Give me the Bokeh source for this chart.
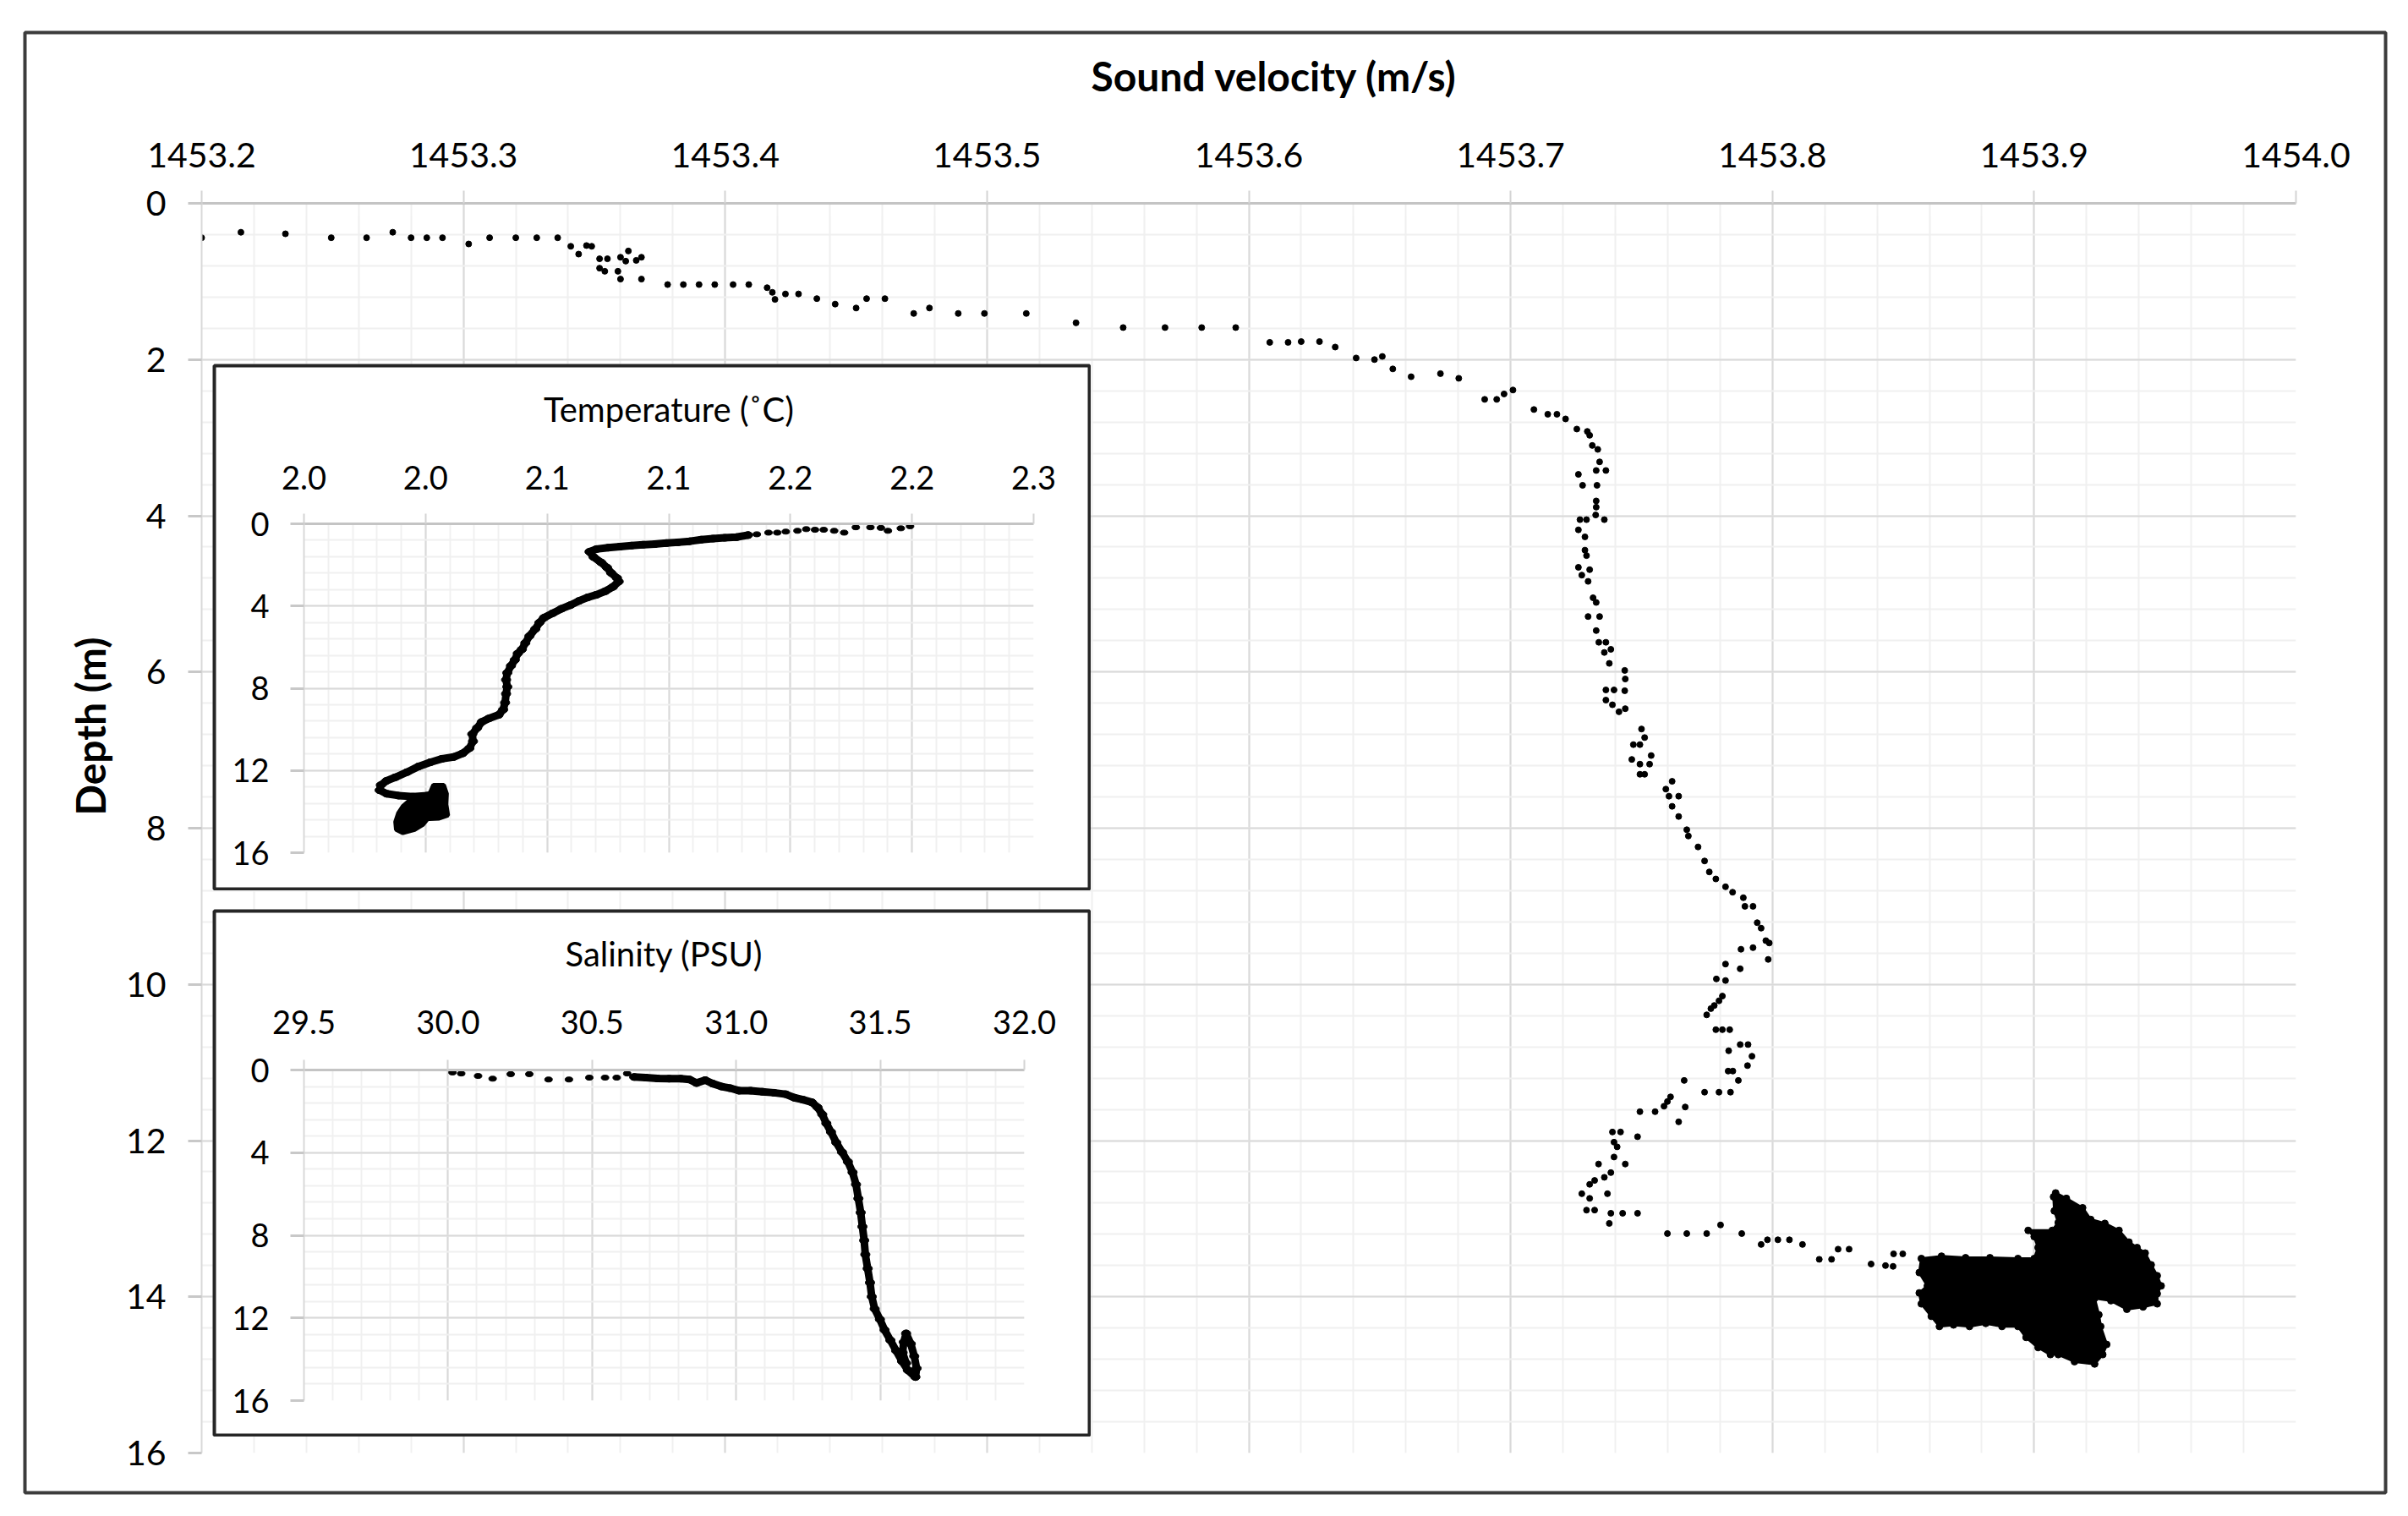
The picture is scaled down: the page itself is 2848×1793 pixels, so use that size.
from bokeh.plotting import figure
from bokeh.models import Column, FixedTicker, NumeralTickFormatter, Title, Range1d
from bokeh.embed import file_html
from bokeh.resources import INLINE

FONT = "Lato"
INK = "#000000"

# ---------------- main chart: sound velocity profile ----------------
sv_velocity = [
    1453.200, 1453.215, 1453.232, 1453.2495, 1453.263, 1453.273, 1453.280, 1453.286, 1453.292,
    1453.302, 1453.310, 1453.320, 1453.328, 1453.336, 1453.341, 1453.344, 1453.347, 1453.349,
    1453.352, 1453.355, 1453.352, 1453.354, 1453.359, 1453.360, 1453.360, 1453.363, 1453.362,
    1453.366, 1453.368, 1453.368, 1453.378, 1453.384, 1453.390, 1453.396, 1453.403, 1453.409,
    1453.416, 1453.418, 1453.419, 1453.423, 1453.428, 1453.435, 1453.442,
    1453.450, 1453.454, 1453.461, 1453.472, 1453.478, 1453.489, 1453.499, 1453.515, 1453.534,
    1453.552, 1453.568, 1453.582, 1453.595, 1453.608, 1453.615, 1453.620, 1453.627, 1453.633,
    1453.641, 1453.648, 1453.651, 1453.655, 1453.662,
    1453.6732, 1453.6802, 1453.6901, 1453.6947, 1453.6975, 1453.7009, 1453.7089, 1453.7142,
    1453.7177, 1453.7210, 1453.7253, 1453.7293, 1453.7302, 1453.7312, 1453.7333, 1453.7340,
    1453.7364, 1453.7327, 1453.7259, 1453.7275, 1453.7330, 1453.7327, 1453.7327, 1453.7325,
    1453.7290, 1453.7265, 1453.7358, 1453.7259, 1453.7284, 1453.7284, 1453.7290, 1453.7259,
    1453.7302, 1453.7272, 1453.7296, 1453.7315, 1453.7327, 1453.7296, 1453.7340, 1453.7327,
    1453.7337, 1453.7364, 1453.7383, 1453.7358, 1453.7377, 1453.7436, 1453.7438, 1453.7436,
    1453.7364, 1453.7395, 1453.7364, 1453.7389, 1453.7414, 1453.7438, 1453.7500, 1453.7512,
    1453.7469, 1453.7494, 1453.7463, 1453.7494, 1453.7537, 1453.7531, 1453.7494, 1453.7512,
    1453.7617, 1453.7593, 1453.7605, 1453.7642, 1453.7617, 1453.7642, 1453.7673, 1453.7679,
    1453.7716, 1453.7741, 1453.7759, 1453.7784, 1453.7821, 1453.7848, 1453.7889, 1453.7895,
    1453.7926, 1453.7942, 1453.7957, 1453.7975, 1453.7988, 1453.7984, 1453.7926, 1453.7880,
    1453.7877, 1453.7821, 1453.7786, 1453.7821, 1453.7809, 1453.7796, 1453.7778, 1453.7765,
    1453.7749, 1453.7784, 1453.7809, 1453.7837, 1453.7833, 1453.7877, 1453.7907, 1453.7922,
    1453.7905, 1453.7831, 1453.7849, 1453.7870, 1453.7663, 1453.7741, 1453.7796, 1453.7840,
    1453.7611, 1453.7599, 1453.7586, 1453.7667, 1453.7552, 1453.7494, 1453.7642, 1453.7485,
    1453.7389, 1453.7420, 1453.7395, 1453.7407, 1453.7395, 1453.7438, 1453.7336, 1453.7383,
    1453.7358, 1453.7321, 1453.7302, 1453.7370, 1453.7272, 1453.7302, 1453.7290, 1453.7321,
    1453.7383, 1453.7428, 1453.7485, 1453.7377, 1453.7599, 1453.7673, 1453.7749, 1453.7802,
    1453.7883, 1453.7957, 1453.7981, 1453.8021, 1453.8065, 1453.8115, 1453.8179, 1453.8226,
    1453.8251, 1453.8293, 1453.8377, 1453.8432, 1453.8461, 1453.8463, 1453.8498,
]
sv_depth = [
    0.44, 0.37, 0.39, 0.44, 0.44, 0.37, 0.44, 0.44, 0.44,
    0.52, 0.44, 0.44, 0.44, 0.44, 0.55, 0.65, 0.54, 0.55,
    0.71, 0.71, 0.83, 0.87, 0.87, 0.97, 0.69, 0.61, 0.74,
    0.73, 0.69, 0.97, 1.04, 1.04, 1.04, 1.04, 1.04, 1.04,
    1.08, 1.14, 1.23, 1.16, 1.16, 1.22, 1.29,
    1.34, 1.22, 1.22, 1.41, 1.34, 1.41, 1.41, 1.41, 1.53,
    1.59, 1.59, 1.59, 1.59, 1.78, 1.78, 1.77, 1.77, 1.84,
    1.98, 2.00, 1.96, 2.12, 2.22,
    2.18, 2.24, 2.51, 2.51, 2.44, 2.39, 2.64, 2.70,
    2.70, 2.76, 2.89, 2.92, 2.97, 3.10, 3.15, 3.31,
    3.42, 3.42, 3.47, 3.61, 3.61, 3.81, 3.89, 3.99,
    4.05, 4.05, 4.05, 4.18, 4.27, 4.44, 4.51, 4.66,
    4.69, 4.76, 4.84, 5.05, 5.11, 5.29, 5.29, 5.47,
    5.62, 5.62, 5.71, 5.75, 5.89, 5.98, 6.09, 6.24,
    6.23, 6.23, 6.36, 6.42, 6.51, 6.47, 6.73, 6.84,
    6.93, 6.93, 7.12, 7.18, 7.07, 7.18, 7.31, 7.31,
    7.40, 7.50, 7.59, 7.59, 7.72, 7.85, 8.02, 8.10,
    8.24, 8.42, 8.56, 8.65, 8.75, 8.82, 8.89, 9.00,
    9.00, 9.21, 9.28, 9.44, 9.47, 9.68, 9.53, 9.55,
    9.80, 9.74, 9.93, 9.95, 10.15, 10.21, 10.27, 10.31,
    10.39, 10.58, 10.58, 10.58, 10.85, 10.77, 10.77, 10.92,
    11.04, 11.11, 11.11, 11.23, 11.23, 11.38, 11.38, 11.38,
    11.44, 11.50, 11.56, 11.57, 11.63, 11.63, 11.76, 11.95,
    11.89, 11.89, 12.02, 12.08, 12.21, 12.30, 12.30, 12.41,
    12.47, 12.51, 12.56, 12.68, 12.68, 12.74, 12.89, 12.89,
    12.93, 12.93, 12.93, 13.06, 13.19, 13.19, 13.19, 13.08,
    13.19, 13.33, 13.27, 13.27, 13.27, 13.33, 13.52, 13.52,
    13.39, 13.39, 13.58, 13.60, 13.61, 13.45, 13.45,
]
# outline of the dense cloud of readings near the bottom
sv_cluster_velocity = [
    1453.9082, 1453.9123, 1453.9185, 1453.9216, 1453.9270, 1453.9324, 1453.9362, 1453.9393,
    1453.9424, 1453.9447, 1453.9470, 1453.9485, 1453.9470, 1453.9470, 1453.9416, 1453.9354,
    1453.9293, 1453.9231, 1453.9247, 1453.9254, 1453.9277, 1453.9262, 1453.9231, 1453.9154,
    1453.9092, 1453.9062, 1453.9015, 1453.8969, 1453.8938, 1453.8877, 1453.8815, 1453.8753,
    1453.8692, 1453.8638, 1453.8607, 1453.8569, 1453.8561, 1453.8592, 1453.8561, 1453.8569,
    1453.8646, 1453.8738, 1453.8831, 1453.8938, 1453.9000, 1453.9015, 1453.9000, 1453.8977,
    1453.9069, 1453.9092, 1453.9077, 1453.9074,
]
sv_cluster_depth = [
    12.67, 12.74, 12.86, 13.01, 13.06, 13.15, 13.30, 13.37,
    13.44, 13.59, 13.73, 13.86, 13.96, 14.09, 14.13, 14.16,
    14.05, 14.02, 14.23, 14.38, 14.61, 14.74, 14.86, 14.83,
    14.74, 14.74, 14.65, 14.52, 14.38, 14.38, 14.34, 14.38,
    14.36, 14.38, 14.25, 14.09, 13.95, 13.86, 13.69, 13.51,
    13.48, 13.50, 13.50, 13.51, 13.51, 13.37, 13.23, 13.15,
    13.15, 13.05, 12.90, 12.72,
]
sv_ticks = [1453.2, 1453.3, 1453.4, 1453.5, 1453.6, 1453.7, 1453.8, 1453.9, 1454.0]
depth_ticks = [0, 2, 4, 6, 8, 10, 12, 14, 16]

# ---------------- inset 1: temperature ----------------
temp_surface_c = [2.1992, 2.1954, 2.1901, 2.1872, 2.1829, 2.1769, 2.1721, 2.1680, 2.1637,
                  2.1601, 2.1565, 2.1529, 2.1481, 2.1446, 2.1410, 2.1362]
temp_surface_depth = [0.12, 0.22, 0.34, 0.20, 0.17, 0.17, 0.43, 0.34, 0.29,
                      0.29, 0.26, 0.34, 0.38, 0.43, 0.43, 0.51]
temp_c = [2.1326, 2.1278, 2.1230, 2.1182, 2.1134, 2.1086, 2.1038, 2.0990, 2.0942, 2.0894,
          2.0847, 2.0799, 2.0751, 2.0703, 2.0674, 2.0691, 2.0722, 2.0746, 2.0763, 2.0787,
          2.0794, 2.0770, 2.0739, 2.0703, 2.0667, 2.0631, 2.0595, 2.0559, 2.0523, 2.0487,
          2.0468, 2.0451, 2.0427, 2.0410, 2.0396, 2.0379, 2.0367, 2.0351, 2.0336, 2.0331,
          2.0336, 2.0331, 2.0327, 2.0319, 2.0300, 2.0260, 2.0231, 2.0212, 2.0192, 2.0195,
          2.0180, 2.0152, 2.0116, 2.0068, 2.0020, 1.9972, 1.9924, 1.9876, 1.9840, 1.9816,
          1.9811, 1.9840, 1.9888, 1.9948, 2.0008]
temp_depth = [0.55, 0.65, 0.68, 0.72, 0.77, 0.85, 0.90, 0.94, 0.99, 1.02,
              1.06, 1.11, 1.16, 1.23, 1.36, 1.62, 1.88, 2.13, 2.39, 2.64,
              2.81, 3.07, 3.28, 3.45, 3.58, 3.75, 3.96, 4.13, 4.35, 4.57,
              4.81, 5.12, 5.46, 5.80, 6.11, 6.31, 6.62, 6.91, 7.25, 7.59,
              7.93, 8.27, 8.70, 9.04, 9.30, 9.47, 9.64, 9.93, 10.23, 10.58,
              10.92, 11.17, 11.34, 11.43, 11.60, 11.80, 12.08, 12.33, 12.50, 12.71,
              12.96, 13.13, 13.22, 13.27, 13.22]
temp_cluster_c = [2.0032, 2.0075, 2.0087, 2.0085, 2.0092, 2.0056, 2.0008, 1.9989, 1.9955,
                  1.9907, 1.9879, 1.9876, 1.9888, 1.9907, 1.9936, 1.9996, 2.0020]
temp_cluster_depth = [12.71, 12.71, 13.13, 13.65, 14.19, 14.33, 14.36, 14.64, 14.88,
                      15.04, 14.88, 14.50, 14.07, 13.73, 13.44, 13.34, 13.05]
temp_ticks = [1.95, 2.0, 2.05, 2.1, 2.15, 2.2, 2.25]
temp_tick_labels = ["2.0", "2.0", "2.1", "2.1", "2.2", "2.2", "2.3"]
inset_depth_ticks = [0, 4, 8, 12, 16]

# ---------------- inset 2: salinity ----------------
sal_surface_psu = [30.0154, 30.0457, 30.1043, 30.1548, 30.2175, 30.2821, 30.3488, 30.4196,
                   30.4903, 30.5449, 30.5853, 30.6217]
sal_surface_depth = [0.12, 0.17, 0.29, 0.42, 0.20, 0.20, 0.46, 0.46, 0.37, 0.37, 0.37, 0.17]
sal_psu = [30.6459, 30.6863, 30.7268, 30.7672, 30.8076, 30.8379, 30.8622, 30.8925, 30.9188,
           30.9491, 30.9794, 31.0097, 31.0501, 31.0906, 31.1310, 31.1714, 31.2017, 31.2320,
           31.2623, 31.2825, 31.2987, 31.3128, 31.3290, 31.3472, 31.3674, 31.3876, 31.4038,
           31.4159, 31.4240, 31.4321, 31.4381, 31.4442, 31.4482, 31.4563, 31.4644, 31.4705,
           31.4806, 31.4988, 31.5149, 31.5351, 31.5553, 31.5756, 31.5958, 31.6221, 31.6261,
           31.6180, 31.6059, 31.5897, 31.5816, 31.5776, 31.5897]
sal_depth = [0.34, 0.37, 0.41, 0.42, 0.42, 0.46, 0.63, 0.49, 0.66,
             0.80, 0.88, 1.00, 1.00, 1.05, 1.10, 1.17, 1.34, 1.44,
             1.56, 1.81, 2.15, 2.58, 3.00, 3.51, 3.98, 4.44, 4.95,
             5.54, 6.22, 6.90, 7.58, 8.25, 8.93, 9.61, 10.29, 10.97,
             11.56, 12.07, 12.58, 13.08, 13.59, 14.10, 14.53, 14.86, 14.44,
             13.85, 13.25, 12.75, 13.17, 13.68, 14.19]
sal_ticks = [29.5, 30.0, 30.5, 31.0, 31.5, 32.0]

W, H = 2840, 1785


def minor_list(start, stop, step):
    n = int(round((stop - start) / step))
    return [round(start + i * step, 4) for i in range(n + 1)]


def style_axes(p, xticks, xminor, yticks, yminor, fsize, xstand, ystand, xout, yout):
    xa = p.xaxis[0]
    ya = p.yaxis[0]
    xt = FixedTicker(ticks=xticks, minor_ticks=xminor)
    yt = FixedTicker(ticks=yticks, minor_ticks=yminor)
    xa.ticker = xt
    ya.ticker = yt
    p.xgrid[0].ticker = xt
    p.ygrid[0].ticker = yt
    for g in (p.xgrid[0], p.ygrid[0]):
        g.grid_line_color = "#d9d9d9"
        g.grid_line_width = 2
        g.minor_grid_line_color = "#f0f0f0"
        g.minor_grid_line_width = 2
    for ax in (xa, ya):
        ax.major_label_text_font = FONT
        ax.major_label_text_font_size = fsize
        ax.major_label_text_color = INK
        ax.minor_tick_line_color = None
        ax.major_tick_in = 0
    xa.axis_line_color = "#c4c4c4"
    xa.axis_line_width = 3
    xa.major_tick_line_color = "#d4d4d4"
    xa.major_tick_line_width = 2
    xa.major_tick_out = xout
    xa.major_label_standoff = xstand
    ya.axis_line_color = "#d9d9d9"
    ya.axis_line_width = 2
    ya.major_tick_line_color = "#c8c8c8"
    ya.major_tick_line_width = 3
    ya.major_tick_out = yout
    ya.major_label_standoff = ystand


def set_xlabel(p, text, size, style, standoff):
    xa = p.xaxis[0]
    xa.axis_label = text
    xa.axis_label_text_font = FONT
    xa.axis_label_text_font_size = size
    xa.axis_label_text_font_style = style
    xa.axis_label_text_color = INK
    xa.axis_label_standoff = standoff


# ---------------- main figure ----------------
main = figure(width=W, height=H, output_backend="svg", toolbar_location=None,
              x_range=Range1d(1453.2, 1454.0), y_range=Range1d(16, 0),
              x_axis_location="above", frame_align=False,
              min_border_left=238, min_border_right=W - 2715,
              min_border_top=240, min_border_bottom=H - 1718)
main.outline_line_color = None
main.background_fill_color = "white"
main.border_fill_color = "white"
style_axes(main, sv_ticks, minor_list(1453.2, 1454.0, 0.02), depth_ticks, minor_list(0, 16, 0.4),
           "41px", 28, 26, 15, 16)
main.xaxis[0].formatter = NumeralTickFormatter(format="0.0")

main.scatter(x=sv_velocity, y=sv_depth, marker="circle", size=7, color="black")
main.patch(x=sv_cluster_velocity, y=sv_cluster_depth, fill_color="black", line_color="black",
           line_width=3)
main.scatter(x=sv_cluster_velocity, y=sv_cluster_depth, marker="circle", size=8, color="black")

x_title = Title(text="Sound velocity (m/s)", text_font=FONT, text_font_size="48px",
                text_font_style="bold", text_color=INK, align="left", offset=1052, standoff=96)
main.add_layout(x_title, "above")
depth_title = Title(text="Depth (m)", text_font=FONT, text_font_size="48px",
                    text_font_style="bold", text_color=INK, align="left", offset=754, standoff=22)
main.add_layout(depth_title, "left")

# outer chart border
frame_fig = figure(width=W, height=H, output_backend="svg", toolbar_location=None,
                   x_axis_type=None, y_axis_type=None, x_range=(0, 1), y_range=(0, 1),
                   frame_align=False,
                   min_border_left=29, min_border_right=W - 2821, min_border_top=38,
                   min_border_bottom=H - 1765)
frame_fig.background_fill_alpha = 0
frame_fig.border_fill_alpha = 0
frame_fig.outline_line_color = "#3c3c3c"
frame_fig.outline_line_width = 4


def inset_box(w, h):
    b = figure(width=w, height=h, output_backend="svg", toolbar_location=None,
               x_axis_type=None, y_axis_type=None, x_range=(0, 1), y_range=(0, 1),
               frame_align=False,
               min_border_left=2, min_border_right=2, min_border_top=2, min_border_bottom=2)
    b.background_fill_color = "white"
    b.border_fill_color = "white"
    b.outline_line_color = "#262626"
    b.outline_line_width = 4
    return b


# ---------------- temperature inset ----------------
t_box = inset_box(1039, 623)
t_fig = figure(width=1039, height=623, output_backend="svg", toolbar_location=None,
               x_range=Range1d(1.95, 2.25), y_range=Range1d(16, 0), x_axis_location="above",
               frame_align=False,
               min_border_left=108, min_border_right=68, min_border_top=189, min_border_bottom=45)
t_fig.background_fill_alpha = 0
t_fig.border_fill_alpha = 0
t_fig.outline_line_color = None
style_axes(t_fig, temp_ticks, minor_list(1.95, 2.25, 0.01), inset_depth_ticks,
           minor_list(0, 16, 0.8), "38px", 29, 25, 12, 16)
set_xlabel(t_fig, "Temperature (˚C)", "40px", "normal", 40)
t_fig.xaxis[0].major_label_overrides = dict(zip(temp_ticks, temp_tick_labels))
t_fig.ellipse(x=temp_surface_c, y=temp_surface_depth, width=9, height=6,
              width_units="screen", height_units="screen", color="black")
t_fig.line(x=temp_c, y=temp_depth, line_width=9, color="black", line_join="round",
           line_cap="round")
t_fig.ellipse(x=temp_c, y=temp_depth, width=11, height=8,
              width_units="screen", height_units="screen", color="black")
t_fig.patch(x=temp_cluster_c, y=temp_cluster_depth, fill_color="black", line_color="black",
            line_width=5)

# ---------------- salinity inset ----------------
s_box = inset_box(1039, 624)
s_fig = figure(width=1039, height=624, output_backend="svg", toolbar_location=None,
               x_range=Range1d(29.5, 32.0), y_range=Range1d(16, 0), x_axis_location="above",
               frame_align=False,
               min_border_left=108, min_border_right=79, min_border_top=190, min_border_bottom=43)
s_fig.background_fill_alpha = 0
s_fig.border_fill_alpha = 0
s_fig.outline_line_color = None
style_axes(s_fig, sal_ticks, minor_list(29.5, 32.0, 0.1), inset_depth_ticks,
           minor_list(0, 16, 0.8), "38px", 31, 25, 12, 16)
set_xlabel(s_fig, "Salinity (PSU)", "40px", "normal", 40)
s_fig.xaxis[0].formatter = NumeralTickFormatter(format="0.0")
s_fig.ellipse(x=sal_surface_psu, y=sal_surface_depth, width=9, height=6,
              width_units="screen", height_units="screen", color="black")
s_fig.line(x=sal_psu, y=sal_depth, line_width=9, color="black", line_join="round",
           line_cap="round")
s_fig.ellipse(x=sal_psu, y=sal_depth, width=11, height=8,
              width_units="screen", height_units="screen", color="black")


def place(fig, left, top):
    fig.styles = {"position": "absolute", "left": f"{left}px", "top": f"{top}px"}


place(frame_fig, 0, 0)
place(t_box, 251, 430)
place(t_fig, 251, 430)
place(s_box, 251, 1075)
place(s_fig, 251, 1075)

root = Column(children=[main, frame_fig, t_box, t_fig, s_box, s_fig],
              styles={"position": "relative"})

with open("out.html", "w") as f:
    f.write(file_html(root, INLINE))
